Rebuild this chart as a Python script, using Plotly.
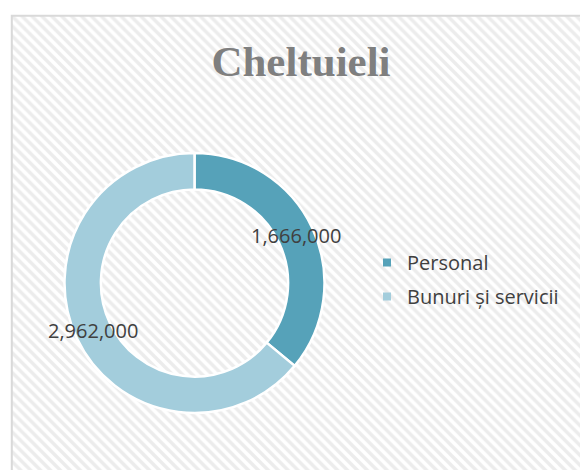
import math
import plotly.graph_objects as go

# ---- data ----
categories = ["Personal", "Bunuri și servicii"]
values = [1666000, 2962000]
value_labels = ["1,666,000", "2,962,000"]
slice_colors = ["#56a2b9", "#a3cddc"]
title_text = "Cheltuieli"

W, H = 580, 470
HOLE = 0.72

# pie placement (paper fractions)
pie_dom_x = [64.5 / W, 324.5 / W]
pie_dom_y = [1 - 413 / H, 1 - 153 / H]

fig = go.Figure()

# hatched chart-area background
fig.add_trace(go.Scatter(
    x=[0, 1.05, 1.05, 0, 0], y=[-0.05, -0.05, 1, 1, -0.05],
    mode="lines", fill="toself", line=dict(width=0, color="rgba(0,0,0,0)"),
    fillcolor="white",
    fillpattern=dict(shape="\\", size=7, solidity=0.5, fgcolor="#dadada", bgcolor="white"),
    hoverinfo="skip", showlegend=False,
))

# legend entries (small squares)
for i, (name, col) in enumerate(zip(categories, slice_colors)):
    fig.add_trace(go.Scatter(
        x=[None], y=[None], mode="markers", name=name, legendgroup=f"g{i}",
        marker=dict(symbol="square", size=8, color=col),
    ))

fig.add_trace(go.Pie(
    labels=categories, values=values, hole=HOLE, sort=False,
    direction="clockwise", rotation=0,
    marker=dict(colors=slice_colors, line=dict(color="white", width=2.5)),
    textinfo="none", hoverinfo="label+value", showlegend=False,
    domain=dict(x=pie_dom_x, y=pie_dom_y),
))

# data labels at ring mid-radius, computed from values
cx = (pie_dom_x[0] + pie_dom_x[1]) / 2 * W
cy = (1 - (pie_dom_y[0] + pie_dom_y[1]) / 2) * H
R = min((pie_dom_x[1] - pie_dom_x[0]) * W, (pie_dom_y[1] - pie_dom_y[0]) * H) / 2
rmid = R * (1 + HOLE) / 2
total = sum(values)
cum = 0
annotations = []
for v, lab in zip(values, value_labels):
    mid = (cum + v / 2) / total * 2 * math.pi
    cum += v
    px = cx + rmid * math.sin(mid)
    py = cy - rmid * math.cos(mid)
    annotations.append(dict(
        x=px / W, y=1 - py / H, xref="paper", yref="paper", text=lab,
        showarrow=False, font=dict(family="Open Sans", size=20, color="#404040"),
        xanchor="center", yanchor="middle",
    ))

fig.update_layout(
    width=W, height=H, margin=dict(l=0, r=0, t=0, b=0),
    paper_bgcolor="white", plot_bgcolor="rgba(0,0,0,0)",
    xaxis=dict(domain=[11.5 / W, 1], range=[0, 1], visible=False, fixedrange=True),
    yaxis=dict(domain=[0, 1 - 15.5 / H], range=[0, 1], visible=False, fixedrange=True),
    title=dict(text=f"<b>{title_text}</b>", x=301 / W, xanchor="center",
               y=1 - 61 / H, yanchor="middle",
               font=dict(family="Liberation Serif", size=43, color="#7f7f7f")),
    legend=dict(x=367 / W, y=1 - 243 / H, xanchor="left", yanchor="top",
                font=dict(family="Open Sans", size=20, color="#404040"),
                bgcolor="rgba(0,0,0,0)", tracegroupgap=5),
    annotations=annotations,
    shapes=[dict(type="rect", xref="paper", yref="paper",
                 x0=11.8 / W, x1=1.02, y0=-0.02, y1=1 - 15.8 / H,
                 line=dict(color="#d9d9d9", width=2), fillcolor="rgba(0,0,0,0)", layer="above")],
)

fig.write_html("out.html", post_script="document.body.style.margin='0';",
               config={"displayModeBar": False})
